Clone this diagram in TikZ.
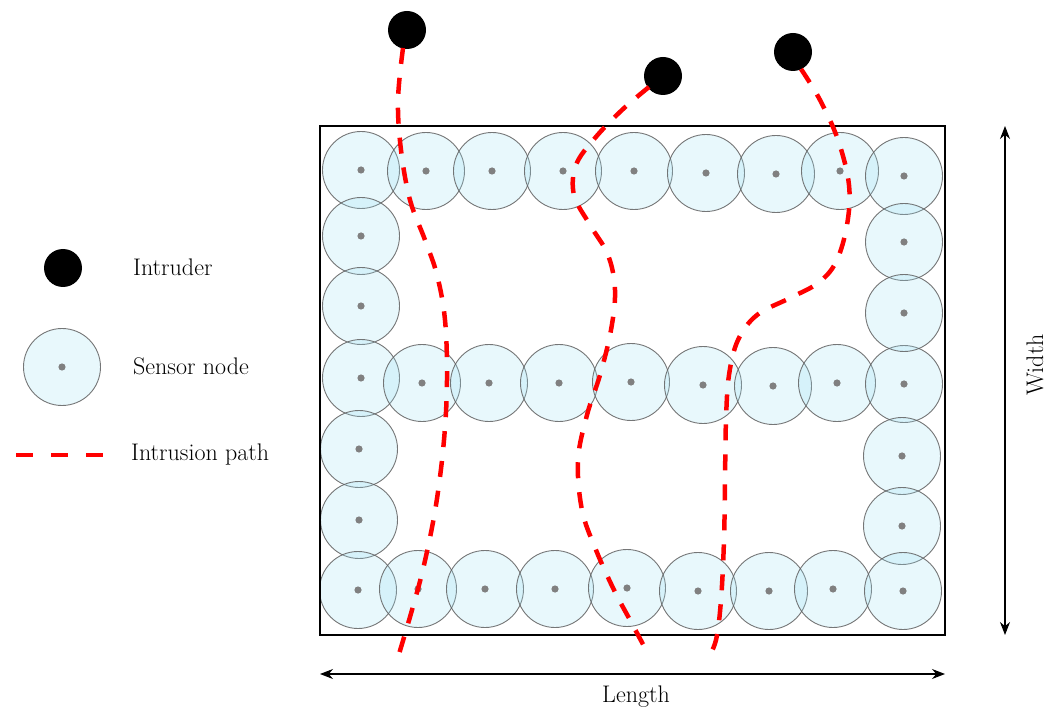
\documentclass[tikz,border=0pt]{standalone}
\usepackage{fontspec}
\setmainfont{Latin Modern Roman}
\usetikzlibrary{arrows.meta}
\definecolor{sensfill}{RGB}{150,222,242}
\definecolor{sensline}{RGB}{95,95,95}
\definecolor{dotc}{RGB}{128,128,128}
\definecolor{pathred}{RGB}{255,0,0}
\begin{document}
\begin{tikzpicture}[x=1pt,y=-1pt,
  sensor/.style={circle,draw=sensline,line width=0.9pt,fill=sensfill,fill opacity=0.22,draw opacity=0.85,minimum size=77pt,inner sep=0pt},
  sdot/.style={fill=dotc},
  intruder/.style={circle,fill=black,minimum size=38pt,inner sep=0pt},
  intrusion/.style={draw=pathred,line width=4.5pt,dash pattern=on 16pt off 14pt},
  field/.style={draw=black,line width=2pt},
  dimarrow/.style={draw=black,line width=1.1pt,{Stealth[length=13pt,width=10pt]}-{Stealth[length=13pt,width=10pt]}},
  lab/.style={font=\fontsize{24}{28}\selectfont,inner sep=0pt}
]
\useasboundingbox (0,0) rectangle (1057,708);

% sensors
\foreach \n/\x/\y in {
  t1/361/170, t2/426/171, t3/492/171, t4/563/171, t5/634/171, t6/706/173, t7/776/174, t8/840/171, t9/904/176,
  l2/361/236, l3/361/306, l4/361/378, l5/359/449, l6/359/520, l7/358/590,
  m2/422/383, m3/489/383, m4/559/383, m5/631/382, m6/703/385, m7/773/386, m8/837/383, m9/904/384,
  r2/904/242, r3/904/313, r5/902/456, r6/902/526,
  b2/418/589, b3/485/589, b4/555/589, b5/627/588, b6/698/591, b7/769/591, b8/833/589, b9/903/591}
{
  \node[sensor] (s\n) at (\x,\y) {};
  \fill[sdot] (s\n.center) circle (3.6);
}

% field
\node[field,minimum width=625pt,minimum height=509pt,inner sep=0pt] (fld) at (632.5,380.5) {};

% intruders
\node[intruder] (i1) at (407,30) {};
\node[intruder] (i2) at (663,76) {};
\node[intruder] (i3) at (793,52) {};

% intrusion paths
\coordinate (e1) at (399,654);
\coordinate (e2) at (645,648);
\coordinate (e3) at (707,660);
\draw[intrusion] plot[smooth,tension=0.6] coordinates {(403,48) (398,100) (401,150) (410,200) (425,240) (437,275) (445,320) (447,380) (444,440) (436,505) (424,565) (412,610) (e1)};
\draw[intrusion] plot[smooth,tension=0.6] coordinates {(649,87) (622,110) (595,138) (576,165) (574,195) (590,225) (608,255) (615,290) (611,330) (600,375) (587,415) (578,460) (582,510) (596,550) (614,590) (630,620) (e2)};
\draw[intrusion] plot[smooth,tension=0.6] coordinates {(801,69) (820,100) (838,140) (849,185) (847,225) (836,262) (818,283) (790,298) (757,315) (738,340) (729,375) (726,420) (725,480) (724,540) (721,600) (716,640) (e3)};

% dimension arrows
\coordinate (wa) at (1005,126);
\coordinate (wb) at (1005,635);
\draw[dimarrow] (wa) -- (wb);
\node[lab,rotate=90] (wlab) at (1035,365) {Width};
\coordinate (la) at (320,674);
\coordinate (lb) at (945,674);
\draw[dimarrow] (la) -- (lb);
\node[lab] (llab) at (636,697) {Length};

% legend
\node[intruder] (gi) at (63,268) {};
\node[lab,anchor=west] (gil) at (133,267) {Intruder};
\node[sensor] (gs) at (62,367) {};
\fill[sdot] (gs.center) circle (3.6);
\node[lab,anchor=west] (gsl) at (133,366) {Sensor\ node};
\coordinate (gpa) at (16,455);
\coordinate (gpb) at (105,455);
\draw[intrusion,dash pattern=on 17pt off 18pt] (gpa) -- (gpb);
\node[lab,anchor=west] (gpl) at (131,455) {Intrusion path};
\end{tikzpicture}
\end{document}
